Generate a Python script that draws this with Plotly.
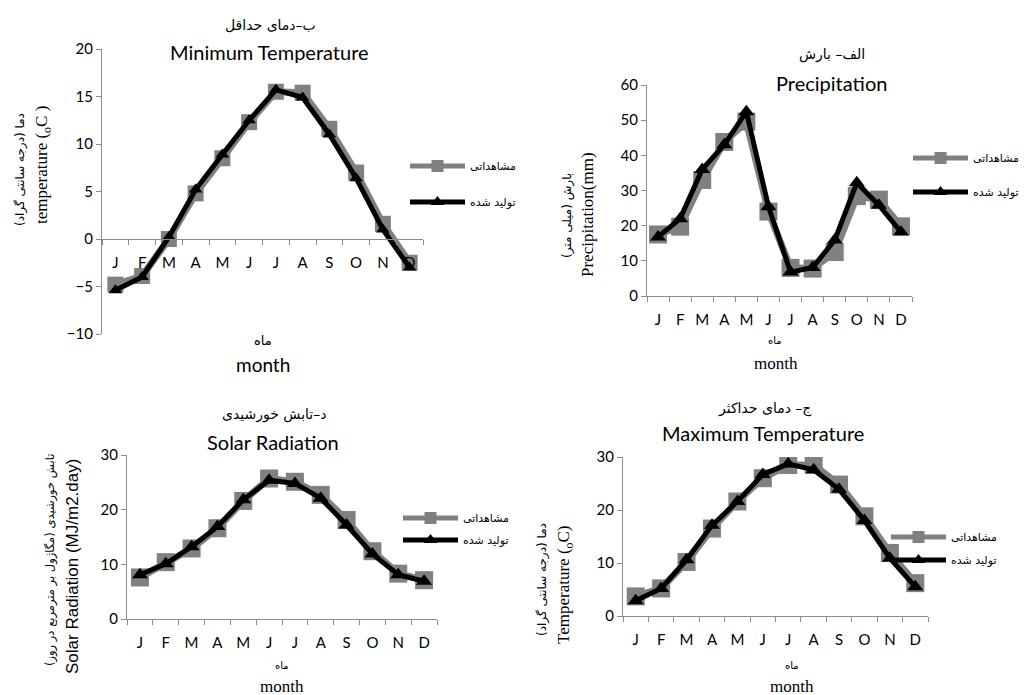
import plotly.graph_objects as go

# ---------------- data ----------------
months = ["J", "F", "M", "A", "M", "J", "J", "A", "S", "O", "N", "D"]
month_index = list(range(1, 13))

series_names = ["مشاهداتی", "تولید شده"]

# Minimum temperature (°C)
tmin_obs = [-4.8, -3.9, 0.0, 4.8, 8.5, 12.3, 15.5, 15.4, 11.6, 7.0, 1.6, -2.5]
tmin_gen = [-5.4, -4.0, 0.2, 5.2, 8.9, 12.5, 15.7, 14.9, 11.0, 6.4, 1.0, -3.0]

# Precipitation (mm)
prec_obs = [17.5, 19.7, 33.0, 43.8, 49.6, 24.0, 8.0, 7.8, 12.5, 28.4, 27.4, 19.8]
prec_gen = [16.8, 22.0, 36.0, 43.0, 52.4, 25.4, 6.8, 8.1, 15.9, 32.2, 25.8, 18.2]

# Solar radiation (MJ/m2.day)
srad_obs = [7.6, 10.4, 12.9, 16.6, 21.6, 25.7, 25.1, 22.7, 18.1, 12.4, 8.3, 7.1]
srad_gen = [8.1, 10.1, 13.2, 16.9, 21.8, 25.4, 24.8, 22.1, 17.2, 11.9, 8.1, 6.9]

# Maximum temperature (°C)
tmax_obs = [3.7, 5.2, 10.2, 16.5, 21.6, 26.0, 28.5, 28.5, 24.8, 18.8, 11.9, 6.2]
tmax_gen = [2.9, 5.2, 10.6, 17.1, 21.6, 26.7, 28.7, 27.6, 23.9, 18.0, 10.9, 5.5]

# ---------------- layout helpers ----------------
W, H = 1025, 695
FX = lambda px: px / W
FY = lambda py: 1 - py / H

GRAY = "#808080"
AXIS = "#8c8c8c"
TICKFONT = dict(family="Lato", size=15, color="#000000")
FA = "DejaVu Sans"
SERIF = "Liberation Serif"

panels = [
    dict(obs=tmin_obs, gen=tmin_gen, xpx=(102, 423), ypx=(49, 334), yrange=(-10, 20), dtick=5,
         cross=0, sq=16, tri=12, legx=405, legy=(166, 202)),
    dict(obs=prec_obs, gen=prec_gen, xpx=(647, 912), ypx=(85, 296), yrange=(0, 60), dtick=10,
         cross=None, sq=18, tri=14, legx=908, legy=(158, 192)),
    dict(obs=srad_obs, gen=srad_gen, xpx=(127, 437), ypx=(455, 619), yrange=(0, 30), dtick=10,
         cross=None, sq=18, tri=14, legx=398, legy=(518, 540)),
    dict(obs=tmax_obs, gen=tmax_gen, xpx=(623, 928), ypx=(457, 616), yrange=(0, 30), dtick=10,
         cross=None, sq=18, tri=14, legx=886, legy=(537, 560)),
]

fig = go.Figure()
layout = {}
leg_n = 0
for i, p in enumerate(panels):
    n = "" if i == 0 else str(i + 1)
    xd = [FX(p["xpx"][0]), FX(p["xpx"][1])]
    yd = [FY(p["ypx"][1]), FY(p["ypx"][0])]
    y0, y1 = p["yrange"]
    xaxis = dict(domain=xd, range=[0.5, 12.5], tickmode="array", tickvals=month_index,
                 ticktext=months, ticks="", showline=True, linecolor=AXIS, linewidth=1.3,
                 showgrid=False, zeroline=False, tickfont=TICKFONT, ticklabelstandoff=10,
                 automargin=False,
                 minor=dict(tickmode="linear", tick0=0.5, dtick=1, ticks="outside",
                            ticklen=5, tickcolor=AXIS, tickwidth=1.3, showgrid=False),
                 fixedrange=True)
    if p["cross"] is not None:
        pos = yd[0] + (p["cross"] - y0) / (y1 - y0) * (yd[1] - yd[0])
        xaxis.update(anchor="free", position=pos)
    else:
        xaxis.update(anchor="y" + n)
    yaxis = dict(domain=yd, range=[y0, y1], dtick=p["dtick"], tick0=0, ticks="outside",
                 ticklen=5, tickcolor=AXIS, tickwidth=1.3, showline=True, linecolor=AXIS,
                 linewidth=1.3, showgrid=False, zeroline=False, tickfont=TICKFONT,
                 anchor="x" + n, fixedrange=True, automargin=False)
    layout["xaxis" + n] = xaxis
    layout["yaxis" + n] = yaxis

    for k, (vals, color, lw, sym, ms) in enumerate([
        (p["obs"], GRAY, 7, "square", p["sq"]),
        (p["gen"], "#000000", 5, "triangle-up", p["tri"]),
    ]):
        leg_n += 1
        lname = "legend" if leg_n == 1 else "legend%d" % leg_n
        fig.add_trace(go.Scatter(
            x=month_index, y=vals, mode="lines+markers", name=series_names[k],
            line=dict(color=color, width=lw), marker=dict(symbol=sym, size=ms, color=color),
            xaxis="x" + n, yaxis="y" + n, legend=lname, showlegend=True))
        layout[lname] = dict(x=FX(p["legx"]), y=FY(p["legy"][k]), xanchor="left", yanchor="middle",
                             bgcolor="rgba(0,0,0,0)", font=dict(family=FA, size=11, color="#000"),
                             itemsizing="constant", itemwidth=55, borderwidth=0)

# ---------------- text ----------------
ann = []
def txt(x, y, s, size, family, angle=0, color="#000"):
    ann.append(dict(x=FX(x), y=FY(y), xref="paper", yref="paper", text=s, showarrow=False,
                    xanchor="center", yanchor="middle", textangle=angle,
                    font=dict(family=family, size=size, color=color)))

# panel titles
txt(270, 25, "ب–دمای حداقل", 14, FA)
txt(269, 52, "Minimum Temperature", 20, "Lato")
txt(832, 55, "الف– بارش", 14, FA)
txt(831, 83, "Precipitation", 20, "Lato")
txt(274, 415, "د–تابش خورشیدی", 14, FA)
txt(273, 442, "Solar Radiation", 20, "Lato")
txt(765, 408, "ج– دمای حداکثر", 14, FA)
txt(763, 433, "Maximum Temperature", 20, "Lato")

# x titles
txt(263, 340, "ماه", 13, FA)
txt(263, 365, "month", 19, "Lato")
txt(775, 340, "ماه", 10, FA)
txt(776, 363, "month", 17, SERIF)
txt(282, 665, "ماه", 10, FA)
txt(282, 686, "month", 17, SERIF)
txt(792, 665, "ماه", 10, FA)
txt(792, 686, "month", 17, SERIF)

# y titles
txt(20, 170, "دما (درجه سانتی گراد)", 12, FA, -90)
txt(43, 165, "temperature (<sub>o</sub>C )", 17, SERIF, -90)
txt(568, 216, "بارش (میلی متر)", 12, FA, -90)
txt(587, 215, "Precipitation(mm)", 17, SERIF, -90)
txt(50, 560, "تابش خورشیدی (مگاژول بر مترمربع در روز)", 11.5, FA, -90)
txt(72, 567, "Solar Radiation (MJ/m2.day)", 17, "Liberation Sans", -90)
txt(542, 580, "دما (درجه سانتی گراد)", 12, FA, -90)
txt(565, 585, "Temperature (<sub>o</sub>C)", 17, SERIF, -90)

fig.update_layout(**layout)
fig.update_layout(width=W, height=H, margin=dict(l=0, r=0, t=0, b=0, autoexpand=False),
                  paper_bgcolor="white", plot_bgcolor="white", annotations=ann,
                  font=dict(family="Lato", color="#000"))

fig.write_html("out.html", include_plotlyjs=True, full_html=True,
               config=dict(displayModeBar=False),
               post_script="document.body.style.margin='0';document.body.style.overflow='hidden';")
